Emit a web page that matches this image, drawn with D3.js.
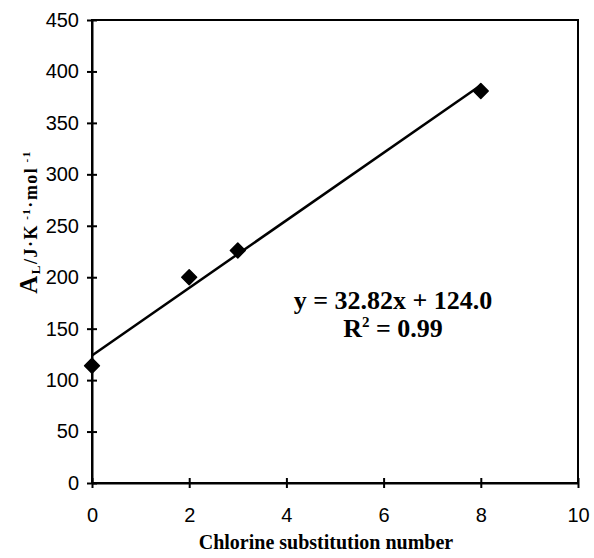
<!DOCTYPE html>
<html>
<head>
<meta charset="utf-8">
<script src="https://cdn.jsdelivr.net/npm/d3@7"></script>
<style>
	body { margin: 0; background: #fff; }
	.axis text { font-family: "Liberation Sans", Arial, sans-serif; font-size: 20px; fill: #000; }
	.axis path, .axis line { stroke: #000; stroke-width: 2; }
	.serif { font-family: "Liberation Serif", "Times New Roman", serif; font-weight: bold; fill: #000; }
</style>
</head>
<body>
<script>
"use strict";

// chlorine substitution number vs A_L
var chlorine = [0, 2, 3, 8];
var aL = [114, 200, 226, 381];

var xTicks = [0, 2, 4, 6, 8, 10];
var yTicks = [0, 50, 100, 150, 200, 250, 300, 350, 400, 450];

// fitted line shown in the figure
var slope = 32.82;
var intercept = 124.0;
var rSquared = 0.99;
var fitRange = [0, 8];

var width = 594, height = 558;
var plotLeft = 92, plotRight = 578, plotTop = 20, plotBottom = 483;

var svg = d3.select("body").append("svg")
	.attr("width", width)
	.attr("height", height);

var x = d3.scaleLinear().domain([0, 10]).range([plotLeft, plotRight]);
var y = d3.scaleLinear().domain([0, 450]).range([plotBottom, plotTop]);

// box round the plot
svg.append("rect")
	.attr("x", plotLeft)
	.attr("y", plotTop)
	.attr("width", plotRight - plotLeft)
	.attr("height", plotBottom - plotTop)
	.attr("fill", "none")
	.attr("stroke", "#000")
	.attr("stroke-width", 2);

var xAxis = svg.append("g")
	.attr("class", "axis")
	.attr("transform", "translate(0," + plotBottom + ")")
	.call(d3.axisBottom(x).tickValues(xTicks).tickSize(5).tickSizeOuter(0).tickPadding(20));
xAxis.selectAll(".tick line").attr("y1", -5);

var yAxis = svg.append("g")
	.attr("class", "axis")
	.attr("transform", "translate(" + plotLeft + ",0)")
	.call(d3.axisLeft(y).tickValues(yTicks).tickSize(5).tickSizeOuter(0).tickPadding(8));
yAxis.selectAll(".tick line").attr("x1", 5);

// regression line
var line = d3.line()
	.x(function (d) { return x(d); })
	.y(function (d) { return y(slope * d + intercept); });

svg.append("path")
	.datum(fitRange)
	.attr("d", line)
	.attr("fill", "none")
	.attr("stroke", "#000")
	.attr("stroke-width", 2.5);

// diamonds
var diamond = d3.symbol().type(d3.symbolSquare).size(110);

svg.selectAll(".point")
	.data(chlorine)
	.enter().append("path")
	.attr("class", "point")
	.attr("d", diamond)
	.attr("transform", function (d, i) {
		return "translate(" + x(d) + "," + y(aL[i]) + ") rotate(45)";
	})
	.attr("fill", "#000")
	.attr("stroke", "#000")
	.attr("stroke-width", 1.5)
	.attr("stroke-linejoin", "round");

// equation text
svg.append("text")
	.attr("class", "serif")
	.attr("x", 393)
	.attr("y", 309)
	.attr("text-anchor", "middle")
	.style("font-size", "26px")
	.text("y = " + slope.toFixed(2) + "x + " + intercept.toFixed(1));

var r2 = svg.append("text")
	.attr("class", "serif")
	.attr("x", 393)
	.attr("y", 337)
	.attr("text-anchor", "middle")
	.style("font-size", "26px");
r2.append("tspan").text("R");
r2.append("tspan").attr("dy", -10).style("font-size", "15px").text("2");
r2.append("tspan").attr("dy", 10).text(" = " + rSquared.toFixed(2));

// axis titles
svg.append("text")
	.attr("class", "serif")
	.attr("x", 326)
	.attr("y", 549)
	.attr("text-anchor", "middle")
	.style("font-size", "20px")
	.text("Chlorine substitution number");

var yTitle = svg.append("text")
	.attr("class", "serif")
	.attr("transform", "translate(37,222) rotate(-90)")
	.attr("text-anchor", "middle")
	.style("font-size", "18px")
	.style("letter-spacing", "1.5px");
yTitle.append("tspan").style("font-size", "25px").text("A");
yTitle.append("tspan").attr("dy", 3).style("font-size", "13px").text("L");
yTitle.append("tspan").attr("dy", -3).text("/J·K");
yTitle.append("tspan").attr("dy", -7).style("font-size", "11px").text(" -1");
yTitle.append("tspan").attr("dy", 7).text("·mol");
yTitle.append("tspan").attr("dy", -7).style("font-size", "11px").text(" -1");
</script>
</body>
</html>
